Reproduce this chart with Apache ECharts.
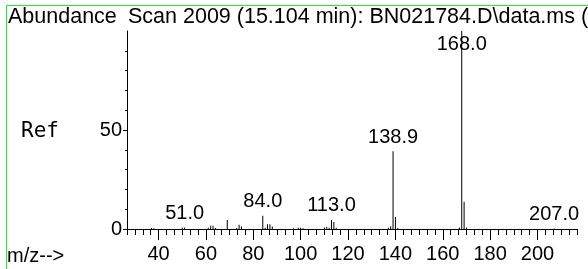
<!DOCTYPE html>
<html>
<head>
<meta charset="utf-8">
<script src="https://cdn.jsdelivr.net/npm/echarts@6/dist/echarts.min.js"></script>
<style>
  html, body { margin: 0; padding: 0; background: #fff; }
  #chart_container { width: 588px; height: 269px; }
</style>
</head>
<body>
<div id="chart_container"></div>
<script>
// m/z 和相对丰度
const mz = [37, 38, 50, 51, 61, 62, 63, 64, 69, 73, 74, 75, 84, 85, 86, 87, 88, 97, 99, 100, 101, 110, 111, 112, 113, 114, 115, 137, 138, 139, 140, 141, 167, 168, 169, 170, 207];
const abundance = [0.5, 0.4, 0.6, 0.7, 0.6, 1.6, 1.6, 0.5, 4.6, 0.5, 2.2, 1.3, 6.7, 0.6, 2.4, 2.4, 1.2, 0.4, 0.6, 0.6, 0.4, 0.7, 1.1, 0.6, 4.6, 3.5, 0.6, 0.6, 1.4, 39.3, 6.0, 0.5, 0.8, 100, 13.8, 0.8, 0.3];
const labelMz = [51, 84, 113, 139, 168, 207];
const labelText = ['51.0', '84.0', '113.0', '138.9', '168.0', '207.0'];
const xTicks = [40, 60, 80, 100, 120, 140, 160, 180, 200];
const yTicks = [0, 50];
const xMin = 80 / 3;
const xMax = 650 / 3;

// 小刻度，每个大刻度间分 6 份
const minorTicks = [];
for (let i = 8; i <= 65; i++) {
  const v = i * 10 / 3;
  if (i % 6 !== 0) minorTicks.push(v);
}
const yMinorTicks = [10, 20, 30, 40, 60, 70, 80, 90];

const fontArial = 'Liberation Sans, Arial, sans-serif';

const barData = mz.map((m, i) => {
  const k = labelMz.indexOf(m);
  const item = { value: [m, abundance[i]] };
  if (k >= 0) {
    item.label = {
      show: true,
      formatter: labelText[k],
      position: m === 168 ? 'insideTop' : 'top',
      distance: m === 168 ? 3 : 4
    };
  }
  return item;
});

const chart = echarts.init(document.getElementById('chart_container'));

chart.setOption({
  animation: false,
  grid: { left: 127, right: 11, top: 31, bottom: 40 },
  xAxis: [
    {
      type: 'value',
      min: xMin,
      max: xMax,
      position: 'bottom',
      axisLine: { show: true, lineStyle: { color: '#000', width: 1 } },
      axisTick: { show: true, customValues: xTicks, length: 11, lineStyle: { color: '#000' } },
      axisLabel: { customValues: xTicks, color: '#000', fontSize: 20, fontFamily: fontArial, margin: 15 },
      splitLine: { show: false }
    },
    {
      type: 'value',
      min: xMin,
      max: xMax,
      position: 'bottom',
      axisLine: { show: false },
      axisTick: { show: true, customValues: minorTicks, length: 6, lineStyle: { color: '#000' } },
      axisLabel: { show: false },
      splitLine: { show: false }
    }
  ],
  yAxis: [
    {
      type: 'value',
      min: 0,
      max: 100,
      axisLine: { show: true, lineStyle: { color: '#000', width: 1 } },
      axisTick: { show: true, customValues: yTicks, length: 4, lineStyle: { color: '#000' } },
      axisLabel: { customValues: yTicks, color: '#000', fontSize: 20, fontFamily: fontArial, margin: 5 },
      splitLine: { show: false }
    },
    {
      type: 'value',
      min: 0,
      max: 100,
      position: 'left',
      axisLine: { show: false },
      axisTick: { show: true, customValues: yMinorTicks, length: 2, lineStyle: { color: '#000' } },
      axisLabel: { show: false },
      splitLine: { show: false }
    }
  ],
  series: [
    {
      type: 'bar',
      xAxisIndex: 0,
      yAxisIndex: 0,
      barWidth: 1,
      itemStyle: { color: '#000' },
      label: { color: '#000', fontSize: 20, fontFamily: fontArial },
      data: barData
    }
  ],
  graphic: [
    {
      type: 'polyline',
      shape: { points: [[6.5, 269], [6.5, 5.5], [588, 5.5]] },
      style: { stroke: '#22ee22', lineWidth: 1, fill: null }
    },
    {
      type: 'text', left: 8, top: 6,
      style: { text: 'Abundance', fill: '#000', font: '21.5px ' + fontArial }
    },
    {
      type: 'text', left: 128, top: 6,
      style: { text: 'Scan 2009 (15.104 min): BN021784.D\\data.ms (', fill: '#000', font: '21.5px ' + fontArial }
    },
    {
      type: 'text', left: 21, top: 121,
      style: { text: 'Ref', fill: '#000', font: '21px DejaVu Sans Mono, monospace' }
    },
    {
      type: 'text', left: 7, top: 246,
      style: { text: 'm/z-->', fill: '#000', font: '20px ' + fontArial }
    }
  ]
});

window.addEventListener('resize', () => {
  chart.resize();
});
</script>
</body>
</html>
